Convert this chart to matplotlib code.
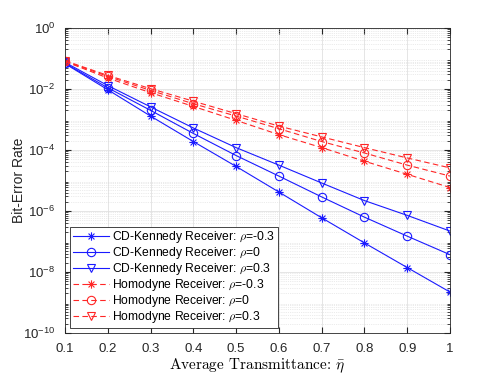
import numpy as np
import matplotlib
matplotlib.use("Agg")
import matplotlib.pyplot as plt
from matplotlib.path import Path
from matplotlib.ticker import LogLocator, NullFormatter

plt.rcParams['font.family'] = ['Liberation Sans', 'DejaVu Sans']
plt.rcParams['mathtext.fontset'] = 'cm'

eta = [0.1, 0.2, 0.3, 0.4, 0.5, 0.6, 0.7, 0.8, 0.9, 1.0]

# CD-Kennedy receiver
ken_m03 = [6.8e-2, 9.5e-3, 1.3e-3, 1.9e-4, 2.9e-5, 4.2e-6, 6.0e-7, 9.0e-8, 1.4e-8, 2.2e-9]
ken_0 = [7.0e-2, 1.1e-2, 2.0e-3, 3.5e-4, 6.6e-5, 1.4e-5, 2.9e-6, 6.3e-7, 1.5e-7, 3.7e-8]
ken_p03 = [7.5e-2, 1.3e-2, 2.6e-3, 5.3e-4, 1.2e-4, 3.2e-5, 8.3e-6, 2.2e-6, 7.2e-7, 2.2e-7]

# Homodyne receiver
hom_m03 = [8.0e-2, 2.3e-2, 7.6e-3, 2.7e-3, 9.4e-4, 3.2e-4, 1.2e-4, 4.3e-5, 1.6e-5, 5.9e-6]
hom_0 = [8.2e-2, 2.6e-2, 9.0e-3, 3.3e-3, 1.3e-3, 5.0e-4, 1.9e-4, 8.0e-5, 3.2e-5, 1.4e-5]
hom_p03 = [8.5e-2, 2.8e-2, 1.03e-2, 4.0e-3, 1.56e-3, 6.1e-4, 2.7e-4, 1.2e-4, 5.5e-5, 2.6e-5]

# MATLAB-like asterisk marker (+ and x combined)
d = 0.7071
star = Path([(-1, 0), (1, 0), (0, -1), (0, 1), (-d, -d), (d, d), (-d, d), (d, -d)],
            [Path.MOVETO, Path.LINETO] * 4)

fig = plt.figure(figsize=(4.98, 3.74), dpi=100)
ax = fig.add_axes([0.1305, 0.1096, 0.7731, 0.8154])

blue = (0.1, 0.1, 1.0)
red = (1.0, 0.15, 0.15)
lw = 0.8
ms = 6
dash = (5, 3)

ax.semilogy(eta, ken_m03, '-', color=blue, lw=lw, marker=star, ms=ms, mew=0.8, label=r'CD-Kennedy Receiver: $\rho$=-0.3')
ax.semilogy(eta, ken_0, '-', color=blue, lw=lw, marker='o', ms=ms, mfc='none', mew=0.8, label=r'CD-Kennedy Receiver: $\rho$=0')
ax.semilogy(eta, ken_p03, '-', color=blue, lw=lw, marker='v', ms=ms, mfc='none', mew=0.8, label=r'CD-Kennedy Receiver: $\rho$=0.3')
ax.semilogy(eta, hom_m03, '--', dashes=dash, color=red, lw=lw, marker=star, ms=ms, mew=0.8, label=r'Homodyne Receiver: $\rho$=-0.3')
ax.semilogy(eta, hom_0, '--', dashes=dash, color=red, lw=lw, marker='o', ms=ms, mfc='none', mew=0.8, label=r'Homodyne Receiver: $\rho$=0')
ax.semilogy(eta, hom_p03, '--', dashes=dash, color=red, lw=lw, marker='v', ms=ms, mfc='none', mew=0.8, label=r'Homodyne Receiver: $\rho$=0.3')

ax.set_xlim(0.1, 1.0)
ax.set_ylim(1e-10, 1e0)
ax.set_xticks(eta)
ax.set_xticklabels(['0.1', '0.2', '0.3', '0.4', '0.5', '0.6', '0.7', '0.8', '0.9', '1'])
ax.set_yticks([1e-10, 1e-8, 1e-6, 1e-4, 1e-2, 1e0])
ax.yaxis.set_minor_locator(LogLocator(base=10, subs=np.arange(2, 10), numticks=20))
ax.yaxis.set_minor_formatter(NullFormatter())

ax.grid(True, which='major', color=(0.88, 0.88, 0.88), lw=0.6)
ax.grid(True, which='minor', axis='y', color=(0.85, 0.85, 0.85), lw=0.5, ls=':')
ax.set_axisbelow(True)

ax.tick_params(which='both', direction='in', top=True, right=True, colors=(0.15, 0.15, 0.15), labelsize=9.5)
ax.tick_params(which='major', length=4, pad=7)
ax.tick_params(which='minor', length=2)
for s in ax.spines.values():
    s.set_color((0.15, 0.15, 0.15))
    s.set_linewidth(0.6)

ax.set_ylabel('Bit-Error Rate', fontsize=10, color=(0.15, 0.15, 0.15))
ax.yaxis.set_label_coords(-0.101, 0.5)
ax.set_xlabel(r'Average Transmittance: $\bar{\eta}$', fontsize=11, family='cmr10', labelpad=1)

leg = ax.legend(loc='lower left', fontsize=8.7, frameon=True, fancybox=False, edgecolor=(0.15, 0.15, 0.15),
                borderpad=0.2, labelspacing=0.0, handlelength=3.0, handletextpad=0.25,
                borderaxespad=0.45, framealpha=1)
leg.get_frame().set_linewidth(0.6)

fig.savefig('out.png', dpi=100)
